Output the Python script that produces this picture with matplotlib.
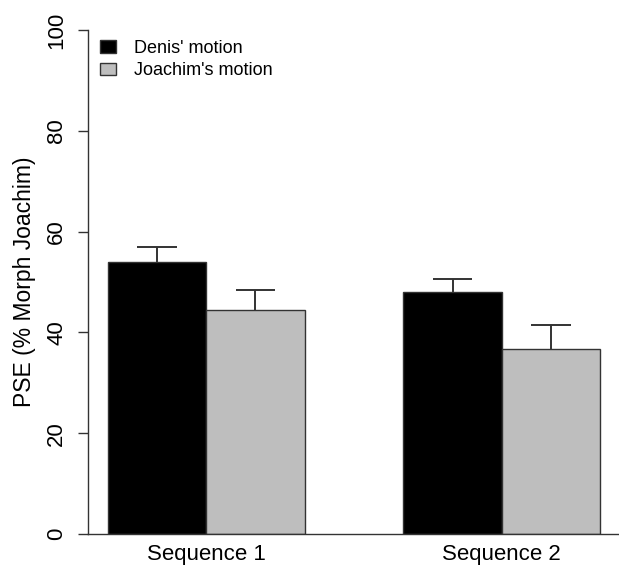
import numpy as np
import matplotlib
matplotlib.use("Agg")
import matplotlib.pyplot as plt

plt.rcParams['font.family'] = ['Liberation Sans', 'DejaVu Sans']

# data
groups = ["Sequence 1", "Sequence 2"]
series = ["Denis' motion", "Joachim's motion"]
denis = [53.9, 48.0]
denis_err = [3.1, 2.6]
joachim = [44.4, 36.7]
joachim_err = [4.0, 4.8]
yticks = [0, 20, 40, 60, 80, 100]

colors = ["black", "#bebebe"]
edge = "#333333"

fig = plt.figure(figsize=(6.19, 5.71), dpi=100)
ax = fig.add_axes([88 / 619, 37 / 571, 532 / 619, 504 / 571])

# R barplot style layout: width 1, space between groups 1
group_left = np.array([1.0, 4.0])
cap = 0.2  # half cap width in bar units
for i, (vals, errs) in enumerate([(denis, denis_err), (joachim, joachim_err)]):
    x = group_left + i + 0.5
    vals = np.array(vals)
    tops = vals + np.array(errs)
    ax.bar(x, vals, width=1.0, color=colors[i], edgecolor=edge, linewidth=1,
           label=series[i], zorder=2)
    # upper error bars only
    ax.vlines(x, vals, tops, color=edge, linewidth=1.4, zorder=3)
    ax.hlines(tops, x - cap, x + cap, color=edge, linewidth=1.4, zorder=3)

ax.set_xlim(0.8, 6.2)
ax.set_ylim(0, 100)
ax.set_xticks(group_left + 1.0)
ax.set_xticklabels(groups, fontsize=16)
ax.tick_params(axis="x", length=0, pad=7)
ax.set_yticks(yticks)
ax.set_yticklabels([str(t) for t in yticks], fontsize=16, rotation=90, va="center")
ax.tick_params(axis="y", length=7, width=1, color=edge, pad=8)
ax.set_ylabel("PSE (% Morph Joachim)", fontsize=16.5, labelpad=7)

for s in ["top", "right"]:
    ax.spines[s].set_visible(False)
for s in ["left", "bottom"]:
    ax.spines[s].set_color(edge)
    ax.spines[s].set_linewidth(1)

ax.legend(loc="upper left", bbox_to_anchor=(100 / 619, 1 - 40 / 571),
          bbox_transform=fig.transFigure, frameon=False, fontsize=13,
          handlelength=0.9, handleheight=0.7, handletextpad=1.0,
          labelspacing=0.3, borderaxespad=0, borderpad=0)

fig.savefig("out.png", dpi=100)
